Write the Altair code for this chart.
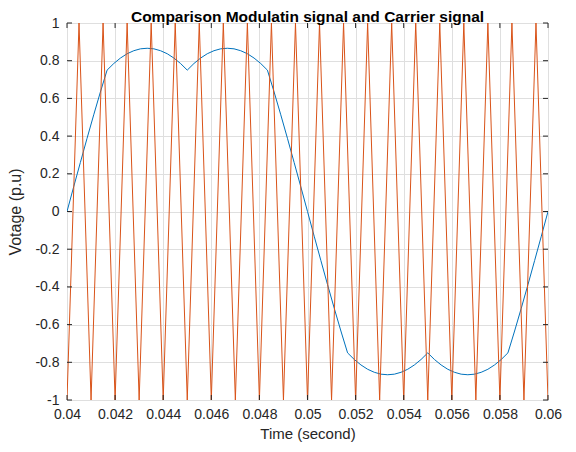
import altair as alt
import pandas as pd

# Modulating signal (blue), sampled every 5 electrical degrees over one 50 Hz cycle
mod_t = [0.040000, 0.040278, 0.040556, 0.040833, 0.041111, 0.041389, 0.041667, 0.041944,
         0.042222, 0.042500, 0.042778, 0.043056, 0.043333, 0.043611, 0.043889, 0.044167,
         0.044444, 0.044722, 0.045000, 0.045278, 0.045556, 0.045833, 0.046111, 0.046389,
         0.046667, 0.046944, 0.047222, 0.047500, 0.047778, 0.048056, 0.048333, 0.048611,
         0.048889, 0.049167, 0.049444, 0.049722, 0.050000, 0.050278, 0.050556, 0.050833,
         0.051111, 0.051389, 0.051667, 0.051944, 0.052222, 0.052500, 0.052778, 0.053056,
         0.053333, 0.053611, 0.053889, 0.054167, 0.054444, 0.054722, 0.055000, 0.055278,
         0.055556, 0.055833, 0.056111, 0.056389, 0.056667, 0.056944, 0.057222, 0.057500,
         0.057778, 0.058056, 0.058333, 0.058611, 0.058889, 0.059167, 0.059444, 0.059722,
         0.060000]
mod_v = [0.0, 0.131, 0.260, 0.388, 0.513, 0.634, 0.750, 0.785,
         0.814, 0.837, 0.853, 0.863, 0.866, 0.863, 0.853, 0.837,
         0.814, 0.785, 0.750, 0.785, 0.814, 0.837, 0.853, 0.863,
         0.866, 0.863, 0.853, 0.837, 0.814, 0.785, 0.750, 0.634,
         0.513, 0.388, 0.260, 0.131, 0.0, -0.131, -0.260, -0.388,
         -0.513, -0.634, -0.750, -0.785, -0.814, -0.837, -0.853, -0.863,
         -0.866, -0.863, -0.853, -0.837, -0.814, -0.785, -0.750, -0.785,
         -0.814, -0.837, -0.853, -0.863, -0.866, -0.863, -0.853, -0.837,
         -0.814, -0.785, -0.750, -0.634, -0.513, -0.388, -0.260, -0.131,
         0.0]

# Carrier signal (orange): triangle vertices
car_t = [0.0400, 0.0405, 0.0410, 0.0415, 0.0420, 0.0425, 0.0430, 0.0435, 0.0440, 0.0445,
         0.0450, 0.0455, 0.0460, 0.0465, 0.0470, 0.0475, 0.0480, 0.0485, 0.0490, 0.0495,
         0.0500, 0.0505, 0.0510, 0.0515, 0.0520, 0.0525, 0.0530, 0.0535, 0.0540, 0.0545,
         0.0550, 0.0555, 0.0560, 0.0565, 0.0570, 0.0575, 0.0580, 0.0585, 0.0590, 0.0595,
         0.0600]
car_v = [-1, 1, -1, 1, -1, 1, -1, 1, -1, 1,
         -1, 1, -1, 1, -1, 1, -1, 1, -1, 1,
         -1, 1, -1, 1, -1, 1, -1, 1, -1, 1,
         -1, 1, -1, 1, -1, 1, -1, 1, -1, 1,
         -1]

x_ticks = [0.04, 0.042, 0.044, 0.046, 0.048, 0.05, 0.052, 0.054, 0.056, 0.058, 0.06]
y_ticks = [-1, -0.8, -0.6, -0.4, -0.2, 0, 0.2, 0.4, 0.6, 0.8, 1]

title_text = "Comparison Modulatin signal and Carrier signal"
x_title = "Time (second)"
y_title = "Votage (p.u)"

W, H = 481, 377
FONT = "Liberation Sans"
AX = "#262626"
GRID = "#dfdfdf"
TL = 5

mod_df = pd.DataFrame({"t": mod_t, "v": mod_v})
car_df = pd.DataFrame({"t": car_t, "v": car_v})
xt_df = pd.DataFrame({"t": x_ticks})
yt_df = pd.DataFrame({"v": y_ticks})

xs = alt.Scale(domain=[0.04, 0.06], nice=False, zero=False)
ys = alt.Scale(domain=[-1, 1], nice=False, zero=False)

x_axis = alt.Axis(values=x_ticks, labelExpr="'' + datum.value", title=x_title,
                  grid=True, gridColor=GRID, gridWidth=1, tickSize=0, domain=False,
                  labelFlush=False, labelOverlap=False, labelBound=False,
                  labelPadding=7, labelFontSize=14, labelFont=FONT, labelColor=AX,
                  titleFont=FONT, titleFontSize=15, titleFontWeight="normal",
                  titleColor=AX, titlePadding=5)
y_axis = alt.Axis(values=y_ticks, labelExpr="'' + datum.value", title=y_title,
                  grid=True, gridColor=GRID, gridWidth=1, tickSize=0, domain=False,
                  labelFlush=False, labelOverlap=False, labelBound=False,
                  labelPadding=8, labelFontSize=14, labelFont=FONT, labelColor=AX,
                  titleFont=FONT, titleFontSize=16, titleFontWeight="normal",
                  titleColor=AX, titlePadding=11)

X = alt.X("t:Q", scale=xs, axis=x_axis)
Y = alt.Y("v:Q", scale=ys, axis=y_axis)

mod_line = alt.Chart(mod_df).mark_line(color="#0072BD", strokeWidth=1, clip=True).encode(x=X, y=Y)
car_line = alt.Chart(car_df).mark_line(color="#D95319", strokeWidth=1, clip=True).encode(x=X, y=Y)
tick_bottom = alt.Chart(xt_df).mark_rule(color=AX, strokeWidth=1).encode(
    x=X, y=alt.value(H), y2=alt.value(H - TL))
tick_top = alt.Chart(xt_df).mark_rule(color=AX, strokeWidth=1).encode(
    x=X, y=alt.value(0), y2=alt.value(TL))
tick_left = alt.Chart(yt_df).mark_rule(color=AX, strokeWidth=1).encode(
    y=Y, x=alt.value(0), x2=alt.value(TL))
tick_right = alt.Chart(yt_df).mark_rule(color=AX, strokeWidth=1).encode(
    y=Y, x=alt.value(W), x2=alt.value(W - TL))

chart = alt.layer(mod_line, car_line, tick_bottom, tick_top, tick_left, tick_right).properties(
    width=W, height=H,
    title=alt.TitleParams(title_text, font=FONT, fontSize=15.5, fontWeight="bold",
                          color="black", anchor="middle", frame="group", offset=1, dy=10),
    autosize=alt.AutoSizeParams(type="none"),
    padding={"left": 59, "top": 15, "right": 20, "bottom": 44},
).configure_view(stroke=AX, strokeWidth=1).configure(background="white")

chart.save("out.html", embed_options={"renderer": "svg", "actions": False})
